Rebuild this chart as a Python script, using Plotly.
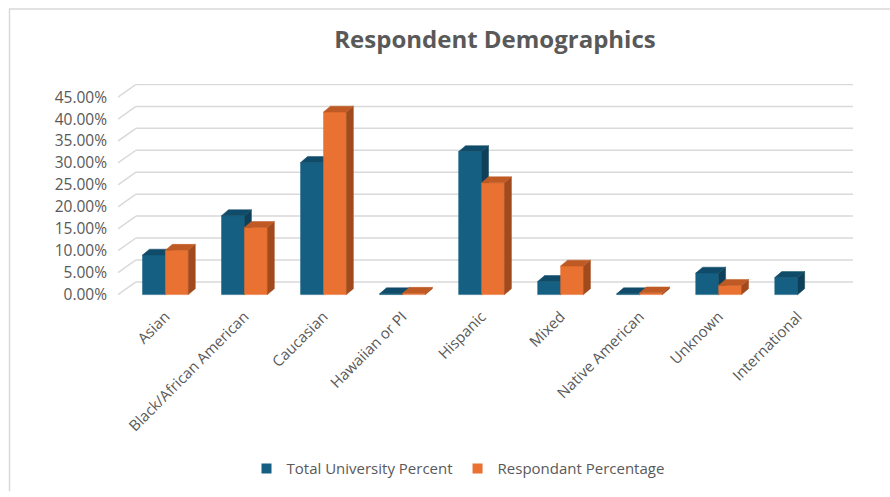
import plotly.graph_objects as go

# ---------------- data ----------------
categories = ["Asian", "Black/African American", "Caucasian", "Hawaiian or PI",
              "Hispanic", "Mixed", "Native American", "Unknown", "International"]
total_university = [0.090, 0.180, 0.301, 0.002, 0.326, 0.030, 0.002, 0.049, 0.039]
respondent_pct = [0.101, 0.153, 0.416, 0.003, 0.255, 0.065, 0.004, 0.021, None]
y_ticks = [0, 0.05, 0.10, 0.15, 0.20, 0.25, 0.30, 0.35, 0.40, 0.45]
series_names = ["Total University Percent", "Respondant Percentage"]

# ---------------- style ----------------
W, H = 890, 497
ML, MR, MT, MB = 118, 37, 84, 195
X_RANGE = [-0.6, 8.7]
Y_RANGE = [-0.01, 0.48]
BAR_W = 0.29
DX, DY = 0.088, 0.0135           # bar depth
GDX, GDY = 0.227, 0.029          # back-wall offset
TEXT = "#595959"
GRID = "#d9d9d9"
FONT = "Open Sans"
BLUE = dict(front="#156082", side="#0e4059", top="#104c69")
ORANGE = dict(front="#E97132", side="#a14a1d", top="#bf5a24")


def faces(values, offset):
    f = ([], []); s = ([], []); t = ([], [])
    for i, v in enumerate(values):
        if v is None:
            continue
        x0 = i + offset
        x1 = x0 + BAR_W
        f[0].extend([x0, x1, x1, x0, x0, None]); f[1].extend([0, 0, v, v, 0, None])
        s[0].extend([x1, x1 + DX, x1 + DX, x1, x1, None]); s[1].extend([0, DY, v + DY, v, 0, None])
        t[0].extend([x0, x1, x1 + DX, x0 + DX, x0, None]); t[1].extend([v, v, v + DY, v + DY, v, None])
    return f, s, t


def poly(xy, color):
    return go.Scatter(x=xy[0], y=xy[1], mode="lines", fill="toself", fillcolor=color,
                      line=dict(color=color, width=0.5), hoverinfo="skip", showlegend=False)


fig = go.Figure()
for vals, off, col in [(total_university, -BAR_W, BLUE), (respondent_pct, 0.0, ORANGE)]:
    f, s, t = faces(vals, off)
    fig.add_trace(poly(f, col["front"]))
    fig.add_trace(poly(s, col["side"]))
    fig.add_trace(poly(t, col["top"]))

for name, col in zip(series_names, [BLUE, ORANGE]):
    fig.add_trace(go.Scatter(x=[None], y=[None], mode="markers", name=name,
                             marker=dict(symbol="square", size=10, color=col["front"])))

# back-wall gridlines and slanted connectors
shapes = []
for tv in y_ticks:
    shapes.append(dict(type="line", xref="x", yref="y", layer="below",
                       x0=X_RANGE[0] + GDX, x1=X_RANGE[1], y0=tv + GDY, y1=tv + GDY,
                       line=dict(color=GRID, width=1.5)))
    shapes.append(dict(type="line", xref="x", yref="y", layer="below",
                       x0=X_RANGE[0], x1=X_RANGE[0] + GDX, y0=tv, y1=tv + GDY,
                       line=dict(color=GRID, width=1.5)))

# chart-area border (left and top)
pw, ph = W - ML - MR, H - MT - MB
def px_x(p): return (p - ML) / pw
def px_y(p): return (H - MB - p) / ph
shapes.append(dict(type="line", xref="paper", yref="paper", x0=px_x(9.5), x1=px_x(9.5),
                   y0=px_y(8), y1=px_y(H), line=dict(color="#d9d9d9", width=1.5)))
shapes.append(dict(type="line", xref="paper", yref="paper", x0=px_x(9), x1=px_x(W),
                   y0=px_y(8), y1=px_y(8), line=dict(color="#d9d9d9", width=1.5)))

fig.update_layout(
    width=W, height=H,
    margin=dict(l=ML, r=MR, t=MT, b=MB),
    paper_bgcolor="white", plot_bgcolor="white",
    font=dict(family=FONT, color=TEXT, size=15),
    title=dict(text="<b>Respondent Demographics</b>", x=495 / W, xref="container",
               xanchor="center", y=1 - 40 / H, yref="container", yanchor="middle",
               font=dict(size=24, color=TEXT, family=FONT)),
    xaxis=dict(range=X_RANGE, tickmode="array", tickvals=list(range(len(categories))),
               ticktext=categories, tickangle=-45, showgrid=False, zeroline=False,
               showline=False, ticks="", tickfont=dict(size=15, color=TEXT),
               ticklabelstandoff=5, fixedrange=True),
    yaxis=dict(range=Y_RANGE, tickmode="array", tickvals=y_ticks, tickformat=".2%",
               showgrid=False, zeroline=False, showline=False, ticks="",
               tickfont=dict(size=15.5, color=TEXT), ticklabelstandoff=10, fixedrange=True),
    legend=dict(orientation="h", x=px_x(458), xanchor="center", y=px_y(474),
                yanchor="middle", font=dict(size=15, color=TEXT), itemwidth=30,
                bgcolor="rgba(0,0,0,0)"),
    shapes=shapes,
    showlegend=True,
)

fig.write_html("out.html")
